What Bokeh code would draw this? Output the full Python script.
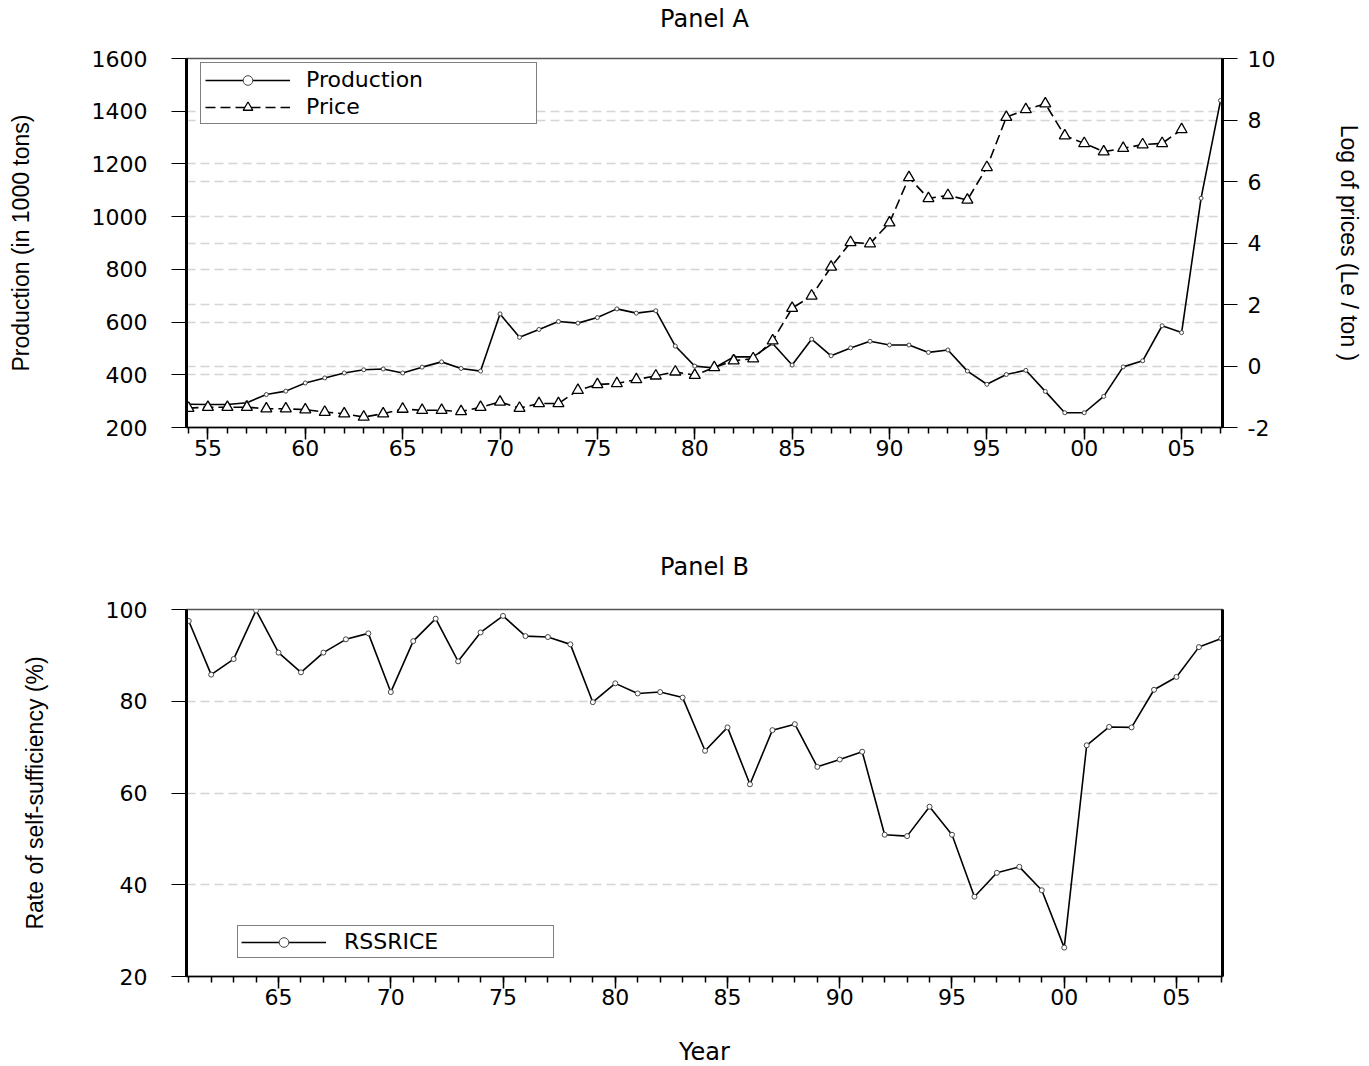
from bokeh.plotting import figure
from bokeh.models import (LinearAxis, Range1d, FixedTicker, Grid, Legend, LegendItem)
from bokeh.layouts import column
from bokeh.embed import file_html
from bokeh.resources import INLINE

# ---------------- data ----------------
years_a = list(range(1954, 2008))
production = [288, 287, 287, 294, 325, 338, 369, 388, 407, 419,
              422, 407, 429, 449, 424, 414, 631, 542, 572, 602,
              596, 617, 650, 634, 643, 509, 433, 426, 468, 468,
              519, 437, 535, 472, 502, 527, 513, 513, 485, 494,
              414, 364, 401, 417, 337, 256, 256, 318, 430, 453,
              586, 560, 1070, 1441]
price_years = list(range(1954, 2006))
log_price = [-1.37, -1.34, -1.34, -1.34, -1.39, -1.39, -1.42, -1.50, -1.55, -1.66,
             -1.55, -1.40, -1.44, -1.44, -1.48, -1.34, -1.17, -1.37, -1.22, -1.22,
             -0.79, -0.60, -0.57, -0.44, -0.32, -0.19, -0.30, -0.05, 0.17, 0.24,
             0.82, 1.88, 2.28, 3.22, 4.02, 3.98, 4.66, 6.13, 5.45, 5.55,
             5.40, 6.46, 8.09, 8.34, 8.53, 7.49, 7.24, 6.97, 7.08, 7.20,
             7.24, 7.69]
years_b = list(range(1961, 2008))
rssrice = [97.5, 85.8, 89.2, 99.8, 90.6, 86.3, 90.6, 93.5, 94.8, 82.0,
           93.1, 98.0, 88.7, 95.0, 98.6, 94.2, 94.0, 92.4, 79.8, 83.9,
           81.7, 82.0, 80.8, 69.2, 74.3, 61.9, 73.7, 75.0, 65.7, 67.3,
           69.0, 50.9, 50.6, 57.0, 50.9, 37.4, 42.6, 43.9, 38.8, 26.3,
           70.4, 74.4, 74.3, 82.5, 85.3, 91.8, 93.7]

xticks_a = [1955, 1960, 1965, 1970, 1975, 1980, 1985, 1990, 1995, 2000, 2005]
xlabels_a = ["55", "60", "65", "70", "75", "80", "85", "90", "95", "00", "05"]
xticks_b = [1965, 1970, 1975, 1980, 1985, 1990, 1995, 2000, 2005]
xlabels_b = ["65", "70", "75", "80", "85", "90", "95", "00", "05"]
yticks_prod = [200, 400, 600, 800, 1000, 1200, 1400, 1600]
yticks_price = [-2, 0, 2, 4, 6, 8, 10]
ylabels_price = ["-2", "0", "2", "4", "6", "8", "10"]
yticks_b = [20, 40, 60, 80, 100]

WIDE = "DejaVu Sans"
NARROW = "Liberation Sans"
GRID_COLOR = "#d4d4d4"
GRID_DASH = "9 5"


def style_x(ax, ticks, labels, minor):
    ax.ticker = FixedTicker(ticks=ticks, minor_ticks=minor)
    ax.major_label_overrides = {t: l for t, l in zip(ticks, labels)}
    ax.major_tick_in = 0
    ax.major_tick_out = 12
    ax.minor_tick_in = 0
    ax.minor_tick_out = 6
    ax.major_tick_line_color = "black"
    ax.minor_tick_line_color = "black"
    ax.major_tick_line_width = 1.5
    ax.minor_tick_line_width = 1.5
    ax.axis_line_color = "black"
    ax.axis_line_width = 1.5
    ax.major_label_text_font = WIDE
    ax.major_label_text_font_size = "22px"
    ax.major_label_text_color = "black"
    ax.major_label_standoff = 0


def style_y(ax, ticks, standoff):
    ax.ticker = FixedTicker(ticks=ticks)
    ax.major_tick_in = 0
    ax.major_tick_out = 15
    ax.major_tick_line_color = "black"
    ax.major_tick_line_width = 1.2
    ax.axis_line_color = "black"
    ax.axis_line_width = 3
    ax.major_label_text_font = WIDE
    ax.major_label_text_font_size = "22px"
    ax.major_label_text_color = "black"
    ax.major_label_standoff = standoff
    ax.axis_label_text_font = NARROW
    ax.axis_label_text_font_style = "normal"
    ax.axis_label_text_font_size = "23px"
    ax.axis_label_text_color = "black"


def setup(p, title, standoff):
    # panel title drawn as the label of an empty axis above the frame
    top = LinearAxis(ticker=FixedTicker(ticks=[]), axis_label=title,
                     axis_label_standoff=standoff, axis_line_color=None,
                     major_tick_out=0, major_tick_in=0, minor_tick_out=0, minor_tick_in=0,
                     major_label_standoff=0, major_label_text_font_size="0px",
                     axis_label_text_font=WIDE, axis_label_text_font_size="24px",
                     axis_label_text_font_style="normal", axis_label_text_color="black")
    p.add_layout(top, "above")
    p.outline_line_color = "#555555"
    p.outline_line_width = 1.5
    p.background_fill_color = "white"
    p.border_fill_color = "white"
    p.xgrid.visible = False
    p.ygrid.grid_line_color = GRID_COLOR
    p.ygrid.grid_line_dash = GRID_DASH
    p.ygrid.grid_line_width = 1.5


# ---------------- Panel A ----------------
pa = figure(frame_width=1036, frame_height=369, title=None,
            min_border_left=186, min_border_right=147,
            min_border_top=58, min_border_bottom=103,
            x_range=Range1d(1953.9, 2007.1), y_range=Range1d(200, 1600),
            output_backend="svg", toolbar_location=None)
bottom_a = pa.below[0]
left_a = pa.left[0]
setup(pa, "Panel A", 26)
pa.extra_y_ranges = {"price": Range1d(-2, 10)}

style_x(bottom_a, xticks_a, xlabels_a, years_a)
style_y(left_a, yticks_prod, 24)
left_a.axis_label = "Production (in 1000 tons)"
left_a.axis_label_standoff = 55
pa.ygrid.ticker = FixedTicker(ticks=yticks_prod)

rax = LinearAxis(y_range_name="price")
style_y(rax, yticks_price, 10)
rax.major_label_overrides = {t: l for t, l in zip(yticks_price, ylabels_price)}
rax.axis_label = "Log of prices (Le / ton )"
rax.axis_label_standoff = 58
pa.add_layout(rax, "right")

g2 = Grid(dimension=1, y_range_name="price", ticker=FixedTicker(ticks=yticks_price),
          grid_line_color=GRID_COLOR, grid_line_dash=GRID_DASH, grid_line_width=1.5)
pa.add_layout(g2)

l_prod = pa.line(years_a, production, line_color="black", line_width=1.6)
s_prod = pa.scatter(years_a, production, marker="circle", size=4,
                    line_color="#444444", fill_color="white", line_width=1)
l_price = pa.line(price_years, log_price, y_range_name="price", line_color="black",
                  line_width=1.6, line_dash="10 5")
s_price = pa.scatter(price_years, log_price, y_range_name="price", marker="triangle",
                     size=11, line_color="black", fill_color="white", line_width=1.3)

leg_a = Legend(items=[LegendItem(label="Production", renderers=[l_prod, s_prod]),
                      LegendItem(label="Price", renderers=[l_price, s_price])],
               location=(14, 303), orientation="vertical",
               glyph_width=85, glyph_height=24, label_height=24, label_width=226,
               label_standoff=16, padding=4, spacing=2, margin=0,
               border_line_color="black", border_line_width=1.2,
               label_text_font=WIDE, label_text_font_size="22px",
               label_text_color="black", background_fill_alpha=1.0)
pa.add_layout(leg_a, "center")

# ---------------- Panel B ----------------
pb = figure(frame_width=1036, frame_height=367, title=None,
            min_border_left=186, min_border_right=147,
            min_border_top=79, min_border_bottom=90,
            x_range=Range1d(1960.9, 2007.05), y_range=Range1d(20, 100),
            output_backend="svg", toolbar_location=None)
bottom_b = pb.below[0]
left_b = pb.left[0]
setup(pb, "Panel B", 29)

style_x(bottom_b, xticks_b, xlabels_b, years_b)
bottom_b.axis_label = "Year"
bottom_b.axis_label_text_font = WIDE
bottom_b.axis_label_text_font_size = "24px"
bottom_b.axis_label_text_font_style = "normal"
bottom_b.axis_label_text_color = "black"
bottom_b.axis_label_standoff = 30

style_y(left_b, yticks_b, 24)
left_b.axis_label = "Rate of self-sufficiency (%)"
left_b.axis_label_standoff = 55
pb.ygrid.ticker = FixedTicker(ticks=yticks_b)

rbx = LinearAxis(ticker=FixedTicker(ticks=[]), major_label_text_font_size="0px",
                 axis_line_width=3, axis_line_color="black",
                 major_tick_out=0, major_tick_in=0, minor_tick_out=0, minor_tick_in=0)
pb.add_layout(rbx, "right")

l_rss = pb.line(years_b, rssrice, line_color="black", line_width=1.6)
s_rss = pb.scatter(years_b, rssrice, marker="circle", size=5,
                   line_color="#444444", fill_color="white", line_width=1)

leg_b = Legend(items=[LegendItem(label="RSSRICE", renderers=[l_rss, s_rss])],
               location=(51, 18), glyph_width=85, glyph_height=24, label_height=24,
               label_width=206, label_standoff=18, padding=3, margin=0,
               border_line_color="black", border_line_width=1.2,
               label_text_font=WIDE, label_text_font_size="22px",
               label_text_color="black")
pb.add_layout(leg_b, "center")

layout = column(pa, pb, spacing=0)
open("out.html", "w").write(file_html(layout, INLINE))
